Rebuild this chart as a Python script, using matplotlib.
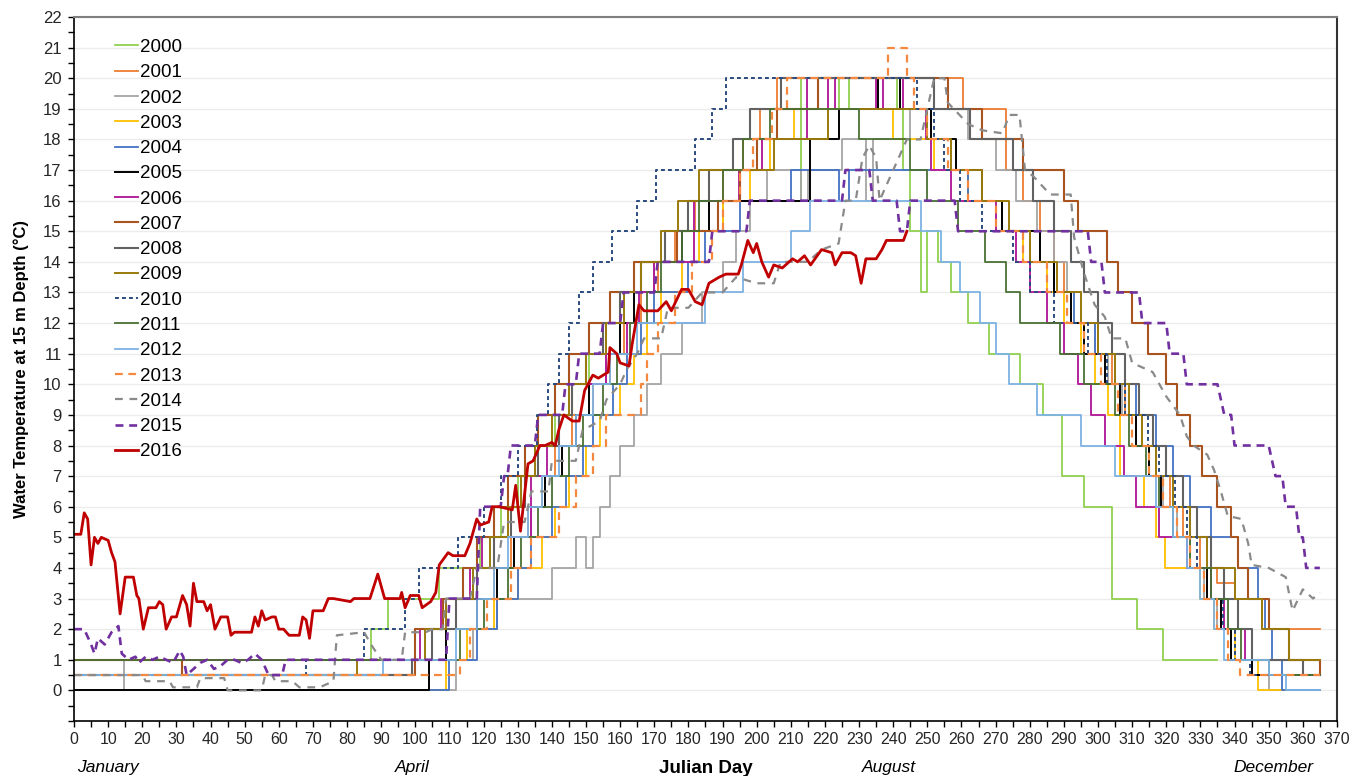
import matplotlib.pyplot as plt
from matplotlib.ticker import MultipleLocator

plt.rcParams['font.family'] = ['Liberation Sans', 'DejaVu Sans']

# step series: day where a new level starts, and that level
d2000 = [0, 87, 92, 107, 119, 125, 130, 136, 141, 146, 151, 156, 160, 164, 172, 190, 213, 224, 227, 241,
         243, 245, 248, 250, 253, 257, 262, 268, 277, 284, 289.5, 296, 304, 311.5, 319, 335]
t2000 = [1, 2, 3, 4, 5, 6, 7, 8, 9, 10, 11, 12, 13, 14, 15, 16, 20, 19, 20, 19,
         17, 15, 13, 15, 14, 13, 12, 11, 10, 9, 7, 6, 3, 2, 1, 1]

d2001 = [0, 100, 118, 123, 128, 133, 137, 141, 146, 152, 157, 161, 166, 171, 176, 182, 190, 196, 201, 206,
         260.5, 273, 278, 283, 287, 290, 295, 300, 304, 308, 313, 317, 321, 325, 330, 335, 340, 348, 365]
t2001 = [0.5, 2, 3, 4, 5, 6, 7, 8, 9, 10, 11, 12, 13, 14, 15, 16, 17, 18, 19, 20,
         19, 17, 16, 15, 14, 13, 12, 11, 10, 9, 8, 7, 6, 5, 4, 3.5, 3, 2, 2]

d2002 = [0, 14.5, 112, 117, 124, 140, 147, 150, 152, 154, 157, 160, 164, 168, 172, 178, 184, 190, 194, 198,
         203, 213, 215, 225, 232, 234, 245, 262, 270, 276, 282, 287, 291, 295, 299, 303, 307, 311, 315, 319,
         323, 327, 331, 335, 340, 350, 365]
t2002 = [1, 0, 1, 2, 3, 4, 5, 4, 5, 6, 7, 8, 9, 10, 11, 12, 13, 14, 15, 16,
         17, 16, 17, 18, 16, 18, 19, 18, 17, 16, 15, 14, 13, 12, 11, 10, 9, 8, 7, 6,
         5, 4, 3, 2, 1, 0, 0]

d2003 = [0, 109, 115, 123, 130, 137, 141, 145, 150, 154, 160, 164, 168, 172, 178, 183, 190, 198, 204, 211,
         240, 252, 262, 270, 278, 285, 290, 295, 299, 303, 306.5, 313.5, 317, 319.5, 330, 334, 340, 347, 365]
t2003 = [0, 1, 2, 3, 4, 5, 6, 7, 8, 9, 10, 11, 12, 13, 14, 15, 16, 17, 18, 19,
         18, 17, 16, 15, 14, 13, 12, 11, 10, 9, 7, 6, 5, 4, 3, 2, 1, 0, 0]

d2004 = [0, 110, 118, 124, 130, 134, 140, 144, 149, 152, 158, 162, 166, 170, 180, 185, 195, 210, 224, 227,
         262, 272, 280, 287, 293, 299, 305, 311, 317, 322, 327, 333, 341, 347, 349, 351, 354, 365]
t2004 = [0, 1, 2, 3, 4, 5, 6, 7, 8, 9, 10, 11, 12, 13, 14, 15, 16, 17, 16, 17,
         16, 15, 14, 13, 12, 11, 10, 9, 8, 7, 6, 5, 4, 3, 2, 1, 0, 0]

d2005 = [0, 104, 109, 118, 124, 129, 134, 138, 143, 147, 151, 156, 160, 164, 170, 178, 186, 215.6, 224, 235.6,
         242, 251, 258.5, 266, 272, 283, 287, 292, 296, 302, 306.5, 311, 315, 318.5, 322, 326, 332, 336, 339, 345,
         365]
t2005 = [0, 1, 2, 3, 4, 5, 6, 7, 8, 9, 10, 11, 12, 13, 14, 15, 16, 18, 19, 20,
         19, 18, 17, 16, 15, 14, 13, 12, 11, 10, 9, 8, 7, 6, 5, 4, 3, 2, 1, 0.5,
         0.5]

d2006 = [0, 101.5, 107.5, 116, 119.6, 134, 138.5, 142, 146, 156, 162, 165.5, 170, 181.6, 194.7, 201.7, 214.6, 221, 223, 235,
         237, 243, 249.5, 251, 257, 270, 276, 280, 285, 290, 294, 298, 302, 307.5, 311, 318, 326, 333, 337, 343,
         365]
t2006 = [1, 2, 3, 4, 5, 7, 8, 9, 10, 11, 12, 13, 14, 16, 17, 18, 20, 19, 20, 19,
         20, 19, 18, 17, 16, 15, 14, 13, 12, 11, 10, 9, 8, 7, 6, 5, 4, 3, 2, 1,
         1]

d2007 = [0, 31.5, 100, 108, 114, 118, 123, 127, 132, 136, 141, 145, 151, 157, 164, 176.6, 188.8, 195, 200, 206,
         218, 256, 266, 278, 290, 294, 302.5, 306, 310, 314.5, 320, 323, 327, 330.5, 335, 339, 341, 344, 350, 356,
         365]
t2007 = [1, 0.5, 2, 3, 4, 5, 6, 7, 8, 9, 10, 11, 12, 13, 14, 15, 16, 17, 18, 19,
         20, 19, 18, 17, 16, 15, 14, 13, 12, 11, 10, 9, 8, 7, 6, 5, 4, 3, 2, 1,
         0.5]

d2008 = [0, 99, 104.8, 112, 118, 123, 128, 132, 136, 142, 146, 150, 155, 160, 166, 173, 180, 186, 193, 198,
         207, 252, 262.5, 275, 281, 287, 292, 296, 300, 304, 308, 312, 316, 320, 325, 329, 333, 337, 341, 345,
         360, 365]
t2008 = [0.5, 1, 2, 3, 4, 5, 6, 7, 8, 9, 10, 11, 12, 13, 14, 15, 16, 17, 18, 19,
         20, 19, 18, 17, 16, 15, 14, 13, 12, 11, 10, 9, 8, 7, 6, 5, 4, 3, 2, 1,
         0.5, 0.5]

d2009 = [0, 83, 102.7, 109, 117, 122, 127, 131, 135, 140, 145, 150, 156, 161, 166, 172, 177, 183, 205, 221,
         250, 257, 266, 274, 280, 288, 295, 300, 305, 309, 313, 317, 322, 327, 332, 340, 348, 356, 365]
t2009 = [0.5, 1, 2, 3, 4, 5, 6, 7, 8, 9, 10, 11, 12, 13, 14, 15, 16, 17, 18, 19,
         18, 17, 16, 15, 14, 13, 12, 11, 10, 9, 8, 7, 6, 5, 4, 3, 2, 1, 1]

d2010 = [0, 68, 85, 97, 101, 112.6, 120, 125, 130, 135.6, 139, 142, 145, 148, 152, 157.6, 165, 170.6, 182, 187,
         191, 247, 252, 255, 259.6, 266, 275, 280, 287, 297, 302.5, 308, 314.6, 318, 322.7, 326, 329, 333, 336.5, 340,
         344.5, 365]
t2010 = [0.5, 1, 2, 3, 4, 5, 6, 7, 8, 9, 10, 11, 12, 13, 14, 15, 16, 17, 18, 19,
         20, 19, 18, 17, 16, 15, 14, 13, 12, 11, 10, 9, 8, 7, 6, 5, 4, 3, 2, 1,
         0.5, 0.5]

d2011 = [0, 113, 120, 127, 131, 136, 140, 145, 149, 155, 159, 163, 168, 172, 178, 183, 190, 196, 204, 230,
         245, 250, 259, 267, 273, 277, 289, 296, 305, 309, 314, 318, 322, 327, 333, 338, 342, 350, 365]
t2011 = [1, 2, 3, 4, 5, 6, 7, 8, 9, 10, 11, 12, 13, 14, 15, 16, 17, 18, 19, 18,
         17, 16, 15, 14, 13, 12, 11, 10, 9, 8, 7, 6, 5, 4, 3, 2, 1, 0.5, 0.5]

d2012 = [0, 90.5, 112, 118, 123, 127, 133, 137, 142, 147, 152, 157, 165, 185, 196, 210, 215.6, 248, 254, 259.5,
         265.5, 270, 274, 282, 295, 305, 317, 322, 326, 330, 334, 337, 350, 355, 365]
t2012 = [0.5, 1, 2, 3, 4, 5, 6, 7, 8, 9, 10, 11, 12, 13, 14, 15, 16, 15, 14, 13,
         12, 11, 10, 9, 8, 7, 6, 5, 4, 3, 2, 1, 0.5, 0, 0]

d2013 = [0, 113, 116, 121, 128, 134, 142, 147, 152, 156, 166, 168, 171, 176, 181, 187, 190, 195, 199, 204.5,
         209, 238.5, 244, 246, 250, 256, 262, 270, 278, 285, 291, 296, 301, 306, 310, 315, 319, 323, 327, 331,
         335, 338, 341.5, 365]
t2013 = [0.5, 1, 2, 3, 4, 5, 6, 7, 8, 9, 10, 11, 12, 13, 14, 15, 16, 17, 18, 19,
         20, 21, 20, 19, 18, 17, 16, 15, 14, 13, 12, 11, 10, 9, 8, 7, 6, 5, 4, 3,
         2, 1, 0.5, 0.5]

# daily-looking series: plain vertices
d2014 = [0, 20, 21, 28, 29, 36, 37, 44, 45, 55, 56, 58, 59, 64, 66, 72, 76, 77, 85, 87,
         90, 96, 97, 103, 105, 108, 109, 116, 118, 124, 126, 132, 134, 139, 140, 147, 149, 154, 156, 160,
         162, 165, 167, 172, 174, 180, 184, 190, 194, 200, 205, 207, 215, 219, 224, 226, 229, 231, 233, 235,
         236, 238, 240, 244, 248, 252, 255, 256, 262, 266, 272, 274, 277, 278.6, 281, 286, 292, 293, 296, 299,
         302, 304, 308, 310, 316, 320, 324, 326, 328, 332, 334, 336, 338, 342, 344, 345, 350, 355, 357, 360,
         363, 365]
t2014 = [0.5, 0.5, 0.3, 0.3, 0.1, 0.1, 0.4, 0.4, 0.0, 0.0, 0.5, 0.5, 0.3, 0.3, 0.1, 0.1, 0.3, 1.8, 1.9, 1.5,
         1.0, 1.0, 1.9, 1.9, 2.0, 2.0, 3.0, 3.0, 4.0, 4.0, 5.5, 5.5, 6.5, 6.5, 7.5, 7.5, 8.5, 8.8, 9.5, 10.0,
         10.5, 11.0, 11.5, 11.5, 12.5, 12.5, 13.0, 13.0, 13.5, 13.3, 13.3, 14.0, 14.0, 14.4, 14.6, 16.0, 16.0, 17.4, 17.8, 17.4,
         16.0, 16.5, 17.0, 18.0, 18.0, 20.0, 20.0, 19.2, 18.5, 18.3, 18.2, 18.8, 18.8, 17.0, 16.8, 16.2, 16.2, 14.8, 13.6, 12.6,
         12.2, 11.5, 11.5, 10.7, 10.4, 9.6, 9.0, 8.3, 8.0, 7.7, 7.2, 6.5, 5.7, 5.6, 4.8, 4.1, 4.0, 3.7, 2.6, 3.3,
         3.0, 3.2]

d2015 = [0, 3, 5, 6, 7, 9, 11, 13, 14, 16, 18, 19, 21, 23, 25, 27, 29, 31, 32, 33,
         35, 37, 39, 41, 43, 45, 47, 49, 51, 53, 55, 57, 61, 62, 109, 110, 118, 119, 125, 126,
         127, 128, 135, 136, 143, 144, 147, 148, 154, 155, 160, 161, 170, 171, 186, 187, 197, 198, 225, 226,
         233, 234, 241, 242, 244, 245, 258, 259, 297, 298, 301, 302, 312, 313, 320, 321, 325, 326, 335, 337,
         339, 340, 350, 352, 354, 355, 358, 359, 360, 361, 365]
t2015 = [2.0, 2.0, 1.5, 1.2, 1.7, 1.5, 1.9, 2.1, 1.2, 1.0, 1.1, 0.9, 1.1, 1.0, 1.1, 1.0, 0.9, 1.3, 1.1, 0.5,
         0.7, 0.9, 1.0, 0.7, 0.8, 1.0, 1.0, 0.9, 1.0, 1.2, 1.0, 0.5, 0.5, 1.0, 1.0, 3, 3, 6, 6, 7,
         7, 8, 8, 9, 9, 10, 10, 11, 11, 12, 12, 13, 13, 14, 14, 15, 15, 16, 16, 17,
         17, 16, 16, 15, 15, 16, 16, 15, 15, 14, 14, 13, 13, 12, 12, 11, 11, 10, 10, 9,
         9, 8, 8, 7, 7, 6, 6, 5, 5, 4, 4]

d2016 = [0, 2, 3, 4, 5, 6, 7, 8, 10, 11, 12, 13.5, 15, 17.4, 18.4, 19, 20.3, 21.8, 24, 25,
         26, 27, 28.6, 30, 31.8, 33, 34, 35, 36, 38, 39, 40, 41.3, 43, 45, 46, 47, 52, 53, 54,
         55, 56, 58, 59, 60, 61.4, 63, 66, 67, 68, 69, 70, 73, 74.5, 76, 81, 82, 86.7, 89, 91,
         95.5, 96, 97, 98.5, 101, 102, 104.5, 106, 107, 109.6, 111, 114.5, 116, 118, 119, 121.5, 122.5, 124.5, 128.4, 129.4,
         130.8, 132, 133, 134.5, 136.5, 138, 140, 141, 142, 143.5, 146, 148, 149.6, 152, 153.6, 156.5, 157, 159, 160, 162.6,
         163.5, 165.5, 167, 171, 173.5, 175, 178, 180, 182, 184, 186, 189, 191, 194.6, 195.5, 197.4, 199, 200, 201.5, 203.5,
         205, 207.5, 210.5, 212, 214, 215.8, 219, 222, 223, 225, 227.6, 229, 230.6, 232, 235, 236.7, 238, 241, 243, 244]
t2016 = [5.1, 5.1, 5.8, 5.6, 4.1, 5.0, 4.8, 5.0, 4.9, 4.5, 4.2, 2.5, 3.7, 3.7, 3.1, 3.0, 2.0, 2.7, 2.7, 2.9,
         2.8, 2.0, 2.4, 2.4, 3.1, 2.8, 2.1, 3.5, 2.9, 2.9, 2.6, 2.8, 2.0, 2.4, 2.4, 1.8, 1.9, 1.9, 2.4, 2.1,
         2.6, 2.3, 2.4, 2.4, 2.0, 2.0, 1.8, 1.8, 2.4, 2.3, 1.7, 2.6, 2.6, 3.0, 3.0, 2.9, 3.0, 3.0, 3.8, 3.0,
         3.0, 3.2, 2.7, 3.1, 3.1, 2.7, 2.9, 3.2, 4.1, 4.5, 4.4, 4.4, 4.8, 5.6, 5.4, 5.5, 6.0, 6.0, 5.9, 6.7,
         5.2, 6.4, 7.4, 7.5, 8.0, 8.0, 8.1, 8.0, 8.5, 9.0, 8.8, 8.8, 9.8, 10.3, 10.2, 10.4, 11.2, 11.0, 10.7, 10.6,
         11.3, 12.6, 12.4, 12.4, 12.7, 12.4, 13.1, 13.1, 12.7, 12.6, 13.3, 13.5, 13.6, 13.6, 13.9, 14.7, 14.3, 14.6, 14.0, 13.5,
         13.9, 13.8, 14.1, 14.0, 14.2, 13.9, 14.4, 14.3, 13.9, 14.3, 14.3, 14.2, 13.3, 14.1, 14.1, 14.4, 14.7, 14.7, 14.7, 15.0]

months = ['January', 'April', 'August', 'December']
month_pos = [10, 99, 238.7, 351.5]

series = [
    ('2000', d2000, t2000, '#92D050', '-', 1.3, 'steps-post'),
    ('2001', d2001, t2001, '#ED7D31', '-', 1.3, 'steps-post'),
    ('2002', d2002, t2002, '#A5A5A5', '-', 1.3, 'steps-post'),
    ('2003', d2003, t2003, '#FFC000', '-', 1.3, 'steps-post'),
    ('2004', d2004, t2004, '#4472C4', '-', 1.3, 'steps-post'),
    ('2005', d2005, t2005, '#000000', '-', 1.4, 'steps-post'),
    ('2006', d2006, t2006, '#B4239C', '-', 1.4, 'steps-post'),
    ('2007', d2007, t2007, '#A9541E', '-', 1.5, 'steps-post'),
    ('2008', d2008, t2008, '#626262', '-', 1.5, 'steps-post'),
    ('2009', d2009, t2009, '#9A7A0C', '-', 1.4, 'steps-post'),
    ('2010', d2010, t2010, '#2A4A7E', (0, (2, 1.6)), 1.4, 'steps-post'),
    ('2011', d2011, t2011, '#4A7033', '-', 1.3, 'steps-post'),
    ('2012', d2012, t2012, '#7DB3E4', '-', 1.3, 'steps-post'),
    ('2013', d2013, t2013, '#F4883F', (0, (3.5, 2.5)), 1.6, 'steps-post'),
    ('2014', d2014, t2014, '#8A8A8A', (0, (3.5, 3)), 1.6, 'default'),
    ('2015', d2015, t2015, '#7030A0', (0, (3, 2.2)), 1.9, 'default'),
    ('2016', d2016, t2016, '#C00000', '-', 2.0, 'default'),
]

fig = plt.figure(figsize=(13.68, 7.76), dpi=100)
ax = fig.add_axes([0.0541, 0.0709, 0.9232, 0.9072])

for label, d, t, c, ls, lw, ds in series:
    ax.plot(d, t, color=c, linestyle=ls, linewidth=lw, drawstyle=ds, label=label)

ax.set_xlim(0, 370)
ax.set_ylim(-1, 22)
ax.xaxis.set_major_locator(MultipleLocator(10))
ax.xaxis.set_minor_locator(MultipleLocator(5))
ax.yaxis.set_major_locator(MultipleLocator(1))
ax.yaxis.set_minor_locator(MultipleLocator(0.5))
ax.set_yticks(range(0, 23))
ax.tick_params(which='both', direction='out', length=4, width=1, colors='black', labelcolor='#262626')
ax.tick_params(axis='x', labelsize=11.5, pad=4)
ax.tick_params(axis='y', labelsize=12, pad=5)
ax.grid(axis='y', color='#ECECEC', linewidth=1)
ax.set_axisbelow(True)

ax.spines['left'].set_linewidth(1.2)
ax.spines['bottom'].set_linewidth(1.2)
ax.spines['top'].set_color('#7F7F7F')
ax.spines['top'].set_linewidth(1.5)
ax.spines['right'].set_color('#333333')
ax.spines['right'].set_linewidth(1.5)

ax.set_ylabel('Water Temperature at 15 m Depth (°C)', fontsize=12, fontweight='bold')
ax.yaxis.set_label_coords(-0.0356, 0.5)
ax.set_xlabel('Julian Day', fontsize=13.5, fontweight='bold', labelpad=9)

for m, p in zip(months, month_pos):
    ax.text(p, -0.066, m, transform=ax.get_xaxis_transform(), ha='center', va='center',
            fontsize=12.5, fontstyle='italic')

ax.legend(loc='upper left', bbox_to_anchor=(0.0325, 0.969), frameon=False, fontsize=13.5,
          handlelength=1.23, handletextpad=0.1, labelspacing=0.435, borderaxespad=0, borderpad=0)

fig.savefig('out.png', dpi=100)
